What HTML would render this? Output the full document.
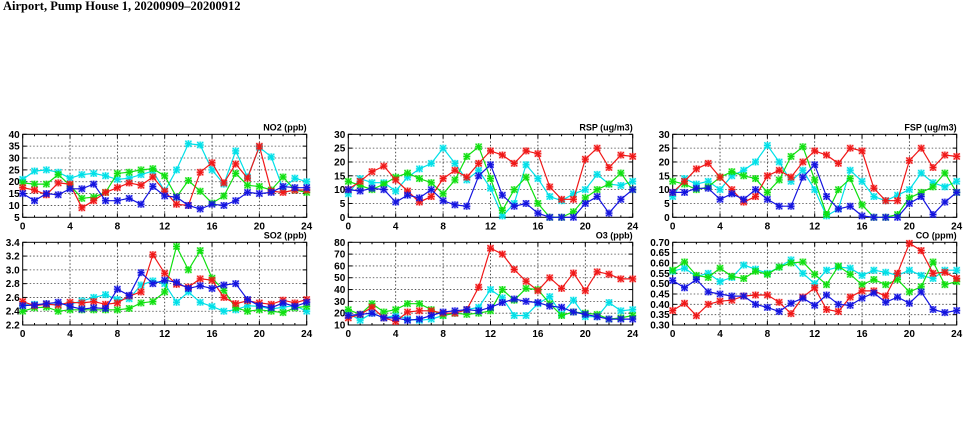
<!DOCTYPE html>
<html><head><meta charset="utf-8"><style>
html,body{margin:0;padding:0;background:#fff;width:975px;height:447px;overflow:hidden}
svg{display:block}
text{font-family:"Liberation Sans",sans-serif;font-weight:bold;font-size:10px;fill:#000}
</style></head><body>
<svg id="s" width="975" height="447" xmlns="http://www.w3.org/2000/svg">
<text x="3" y="10" style="font-family:'Liberation Serif',serif;font-size:12.5px">Airport, Pump House 1, 20200909–20200912</text>
</svg>
<script>
const C={c:"#00e0e8",g:"#10e010",r:"#f01818",b:"#1414e0"};
const panels=[
{x0:22.7,x1:306.7,y0:134.3,y1:217.3,min:5,max:40,step:5,dec:0,t:"NO2 (ppb)",d:{
c:[21,24.5,25,24,21.5,23,23.5,22.5,21,21.5,23,24.5,16,25,36,35.5,25,19,33,22,34.5,30.5,17,21.5,20],
g:[19.5,19,19,23,18.5,13,13.5,15.5,23.5,24,25,25.5,22.5,13.5,20.5,16,11,14,23.5,18.5,18,16.5,22,16.5,15.5],
r:[17.5,16.5,14.5,19.5,19,9,12,15.5,17.5,19.5,18.5,22,16,10.5,10,24,28,19.5,27.5,21.5,35,16,15.5,16.5,16.5],
b:[15,12,15,14.5,17,17,19,12,12,13,10.5,18,14,13.5,10,8.5,10.5,10,12,15.5,15,15.5,18,17.5,17.5]}},
{x0:22.7,x1:306.7,y0:242.3,y1:325,min:2.2,max:3.4,step:0.2,dec:1,t:"SO2 (ppb)",d:{
c:[2.5,2.5,2.5,2.5,2.5,2.55,2.6,2.64,2.57,2.58,2.78,2.84,2.8,2.53,2.68,2.53,2.47,2.4,2.42,2.48,2.47,2.43,2.46,2.48,2.4],
g:[2.4,2.45,2.46,2.4,2.42,2.42,2.42,2.42,2.42,2.44,2.52,2.54,2.68,3.34,3.0,3.28,2.88,2.7,2.45,2.4,2.42,2.4,2.38,2.45,2.47],
r:[2.54,2.48,2.5,2.49,2.53,2.52,2.54,2.5,2.52,2.62,2.68,3.22,2.95,2.79,2.75,2.87,2.85,2.6,2.51,2.55,2.52,2.5,2.56,2.52,2.57],
b:[2.48,2.49,2.51,2.53,2.47,2.43,2.45,2.44,2.72,2.63,2.96,2.8,2.85,2.82,2.73,2.77,2.73,2.78,2.8,2.57,2.48,2.45,2.52,2.47,2.53]}},
{x0:348.3,x1:632.7,y0:134.3,y1:217.3,min:0,max:30,step:5,dec:0,t:"RSP (ug/m3)",d:{
c:[8.5,14,12.5,12.5,9.5,14.5,17.5,19.5,25,19.5,13.5,17,10.5,0.5,5,19,14,7.5,6,8.5,10,15.5,12,11.5,13],
g:[13,11.5,10,12,14.5,16,14,12.5,8.5,13.5,22,25.5,14,2.5,10,14.5,5,0,0,2,7,10,12,16,10],
r:[10,13,16.5,18.5,13.5,9.5,5.5,7.5,14,17,14.5,19.5,24,22.5,19.5,24,23,11,6.5,6.5,21,25,18,22.5,22],
b:[10,9.5,10.5,10,5.5,8,7,10,6,4.5,4,15,19,8,4,5,1.5,0,0,0,5,7.5,1.5,6.5,10]}},
{x0:348.3,x1:632.7,y0:242.3,y1:325,min:10,max:80,step:10,dec:0,t:"O3 (ppb)",d:{
c:[20,14,20,16,18,15,14,15,18,20,23,25,40,33,18,18,28,34,19,31,17,17,29,22,23],
g:[23,19,28,21,23,28,28,23,18,20,19,20,22,40,31,41,40,28,18,21,20,19,15,16,18],
r:[16,19,25,16,13,21,22,22,20,20,23,42,75,70,57,47,39,50,41,54,39,55,53,49,49],
b:[18,19,20,16,16,14,15,18,21,22,23,22,25,29,32,30,29,26,25,21,19,17,15,15,15]}},
{x0:672.7,x1:956.7,y0:134.3,y1:217.3,min:0,max:30,step:5,dec:0,t:"FSP (ug/m3)",d:{
c:[7.5,14,12,13,10,15,17,20,26,20,13,17,10,0.5,3,17,13,7.5,6,8,10,16,12.5,11,13],
g:[13,12,10,11,14.5,16.5,15,14,9,13.5,22,25.5,13.5,1,10,14,4.5,0,0,1,7,9,11,16,9],
r:[9,13,17.5,19.5,14.5,10,5.5,7.5,15,17,14.5,20,24,22.5,19.5,25,24,10.5,6,6,20.5,25,18,22.5,22],
b:[9,9,10.5,10.5,6.5,8.5,6.5,10,6.5,4,4,14.5,19,7.5,3,4,0.5,0,0,0,5,7.5,1,5.5,9]}},
{x0:672.7,x1:956.7,y0:242.3,y1:325,min:0.3,max:0.7,step:0.05,dec:2,t:"CO (ppm)",d:{
c:[.56,.575,.535,.55,.51,.53,.59,.57,.55,.58,.615,.55,.50,.565,.58,.575,.54,.565,.555,.54,.565,.54,.525,.565,.565],
g:[.565,.605,.54,.53,.575,.535,.525,.56,.545,.58,.60,.605,.545,.495,.585,.545,.495,.52,.495,.52,.46,.485,.605,.495,.51],
r:[.37,.405,.345,.40,.415,.42,.44,.445,.445,.41,.355,.435,.48,.375,.365,.435,.465,.465,.44,.55,.695,.66,.55,.555,.525],
b:[.515,.48,.52,.46,.45,.44,.44,.40,.385,.365,.405,.43,.395,.445,.40,.395,.43,.455,.41,.435,.405,.46,.375,.36,.37]}}
];
let h="";
for(const p of panels){
 const X=i=>p.x0+(p.x1-p.x0)*i/24, Y=v=>p.y1-(p.y1-p.y0)*(v-p.min)/(p.max-p.min);
 const n=Math.round((p.max-p.min)/p.step);
 for(let k=0;k<=n;k++){const v=p.min+k*p.step,y=Y(v);
  if(k>0&&k<n)h+=`<line x1="${p.x0}" x2="${p.x1}" y1="${y}" y2="${y}" stroke="#444" stroke-width="0.8" stroke-dasharray="1.5,2"/>`;
  h+=`<line x1="${p.x0}" x2="${p.x0+4}" y1="${y}" y2="${y}" stroke="#000"/><line x1="${p.x1-4}" x2="${p.x1}" y1="${y}" y2="${y}" stroke="#000"/>`;
  h+=`<text x="${p.x0-3}" y="${y+3.5}" text-anchor="end">${v.toFixed(p.dec)}</text>`;}
 for(let i=0;i<=24;i++){const x=X(i);
  if(i%4==0){ if(i>0&&i<24)h+=`<line x1="${x}" x2="${x}" y1="${p.y0}" y2="${p.y1}" stroke="#222" stroke-width="0.8" stroke-dasharray="1.5,2"/>`;
   h+=`<text x="${x}" y="${p.y1+12}" text-anchor="middle">${i}</text>`;
   h+=`<line x1="${x}" x2="${x}" y1="${p.y1}" y2="${p.y1-4}" stroke="#000"/><line x1="${x}" x2="${x}" y1="${p.y0}" y2="${p.y0+4}" stroke="#000"/>`;}
  else h+=`<line x1="${x}" x2="${x}" y1="${p.y1}" y2="${p.y1-2}" stroke="#000"/><line x1="${x}" x2="${x}" y1="${p.y0}" y2="${p.y0+2}" stroke="#000"/>`;}
 h+=`<rect x="${p.x0}" y="${p.y0}" width="${p.x1-p.x0}" height="${p.y1-p.y0}" fill="none" stroke="#000" stroke-width="1"/>`;
 h+=`<text x="${p.x1}" y="${p.y0-4}" text-anchor="end" style="font-size:9px">${p.t}</text>`;
 for(const k of ["c","g","r","b"]){const d=p.d[k],col=C[k];
  h+=`<polyline fill="none" stroke="${col}" stroke-width="1.2" points="${d.map((v,i)=>X(i).toFixed(1)+","+Y(v).toFixed(1)).join(" ")}"/>`;
  d.forEach((v,i)=>{const x=X(i),y=Y(v);
   h+=`<rect x="${x-3.5}" y="${y-3.5}" width="7" height="7" fill="${col}" opacity="0.35"/><path d="M${x-3} ${y-3}L${x+3} ${y+3}M${x-3} ${y+3}L${x+3} ${y-3}M${x-3.5} ${y}H${x+3.5}M${x} ${y-3.5}V${y+3.5}" stroke="${col}" stroke-width="1.2"/>`;});}
}
document.getElementById("s").insertAdjacentHTML("beforeend",h);
</script>
</body></html>
